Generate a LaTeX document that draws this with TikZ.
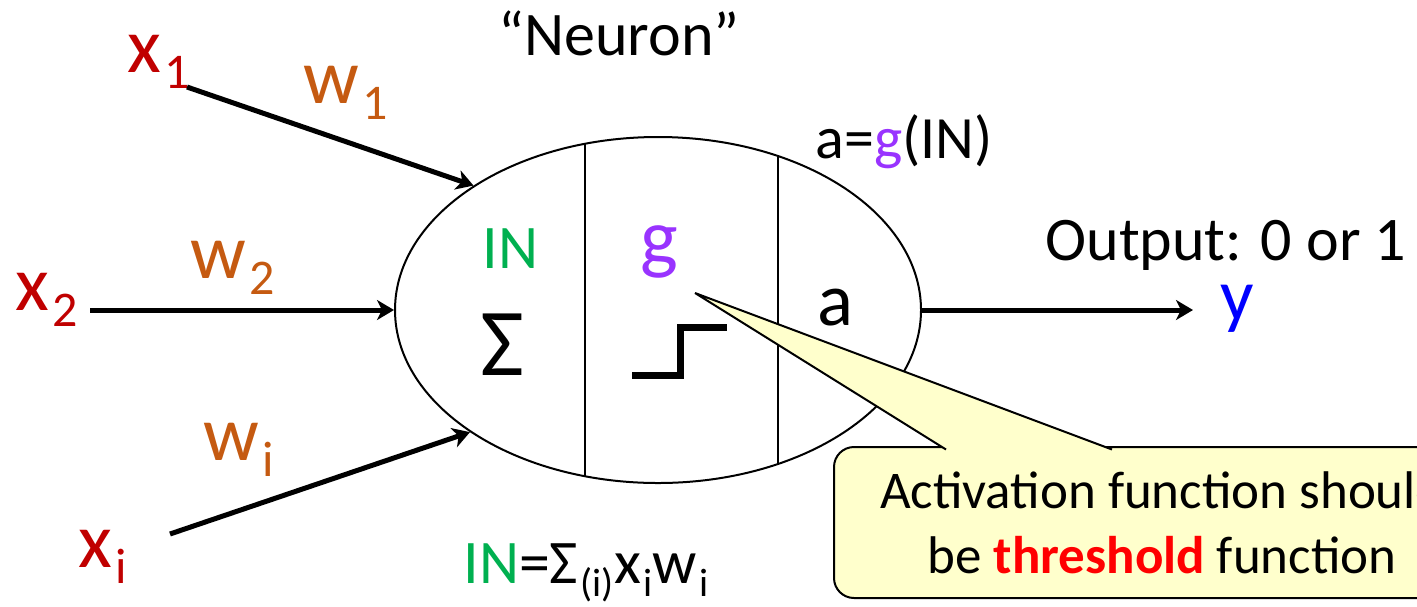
\documentclass[tikz,border=0pt]{standalone}
\usepackage{fontspec}
\setmainfont{Carlito}
\usepackage{tikz}
\usetikzlibrary{shapes.geometric, positioning, arrows.meta}
\definecolor{xred}{RGB}{192,0,0}
\definecolor{worange}{RGB}{197,90,17}
\definecolor{ingreen}{RGB}{0,176,80}
\definecolor{gpurple}{RGB}{153,51,255}
\definecolor{outblue}{RGB}{0,0,255}
\definecolor{hotred}{RGB}{255,0,0}
\definecolor{notebg}{RGB}{255,255,204}
\newcommand{\setsz}[1]{\fontsize{#1}{#1}\selectfont}
\newcommand{\lowidx}[1]{\kern0.04em\raisebox{-0.21em}{\scalebox{0.64}{#1}}}

\begin{document}
\begin{tikzpicture}[x=0.5pt, y=-0.5pt,
        lbl/.style={inner sep=0pt, anchor=base west},
        xlbl/.style={lbl, text=xred, font=\setsz{39}},
        wlbl/.style={lbl, text=worange, font=\setsz{39}},
        arr/.style={-{Stealth[length=8.5pt, width=10pt, inset=2.5pt]}, line width=2.5pt},
        cell/.style={line width=1pt}
    ]
    \useasboundingbox (0,0) rectangle (1417,606);
    \clip (0,0) rectangle (1417,606);

    % the neuron body
    \node[draw, ellipse, line width=1pt, minimum width=263pt, minimum height=173pt, inner sep=0pt] (neuron) at (658,310) {};
    \begin{scope}
        \clip (658,310) ellipse [x radius=263, y radius=173];
        \draw[cell] (585,100) -- (585,520) (778,100) -- (778,520);
    \end{scope}

    \node[lbl, font=\setsz{31}] (title) at (498,55) {``Neuron''};
    \node[lbl, font=\setsz{30}] (agin) at (815,158) {a={\color{gpurple}g}(IN)};
    \node[lbl, text=ingreen, font=\setsz{31}] (insum) at (482,268) {IN};
    \node[lbl, font=\setsz{48}] (sigma) at (480,375) {Σ};
    \node[lbl, text=gpurple, font=\setsz{40}] (g) at (640,264) {g};
    \node[lbl, font=\setsz{37.5}] (a) at (817,325) {a};
    \node[lbl, font=\setsz{31}] (formula) at (463,583) {{\color{ingreen}IN}=Σ\lowidx{(i)}x\lowidx{i}w\lowidx{i}};

    % step function
    \draw[line width=3.5pt] (632,375) -- (680,375) -- (680,327) -- (727,327);

    % inputs
    \node[xlbl] (x1) at (127,72) {x\lowidx{1}};
    \node[xlbl] (x2) at (15,310) {x\lowidx{2}};
    \node[xlbl] (xi) at (78,567) {x\lowidx{i}};
    \node[wlbl] (w1) at (303,103) {w\lowidx{1}};
    \node[wlbl] (w2) at (190,278) {w\lowidx{2}};
    \node[wlbl] (wi) at (203,460) {w\lowidx{i}};
    \coordinate (x1tail) at (187,87);
    \coordinate (x2tail) at (90,310);
    \coordinate (xitail) at (170,534);
    \draw[arr] (x1tail) -- (neuron.146);
    \draw[arr] (x2tail) -- (neuron.west);
    \draw[arr] (xitail) -- (neuron.213);

    % output
    \node[lbl, font=\setsz{31}] (outtxt) at (1045,260) {Output: 0 or 1};
    \node[lbl, text=outblue, font=\setsz{37}] (y) at (1220,320) {y};
    \coordinate (yhead) at (1193,310);
    \draw[arr] (neuron.east) -- (yhead);

    % callout
    \node[draw, fill=notebg, rounded corners=10pt, line width=1pt, minimum width=328pt, minimum height=75.5pt,
        inner sep=0pt, align=center, font=\fontsize{26.5}{32.5}\selectfont] (note) at (1162,522.5)
        {Activation function should\\be {\bfseries\color{hotred}threshold} function};
    \coordinate (tip) at (695,293);
    \fill[notebg] (tip) -- (946,449.5) -- (1112,449.5) -- cycle;
    \draw[line width=1pt] (946,449.5) -- (tip) -- (1112,449.5);
\end{tikzpicture}
\end{document}
